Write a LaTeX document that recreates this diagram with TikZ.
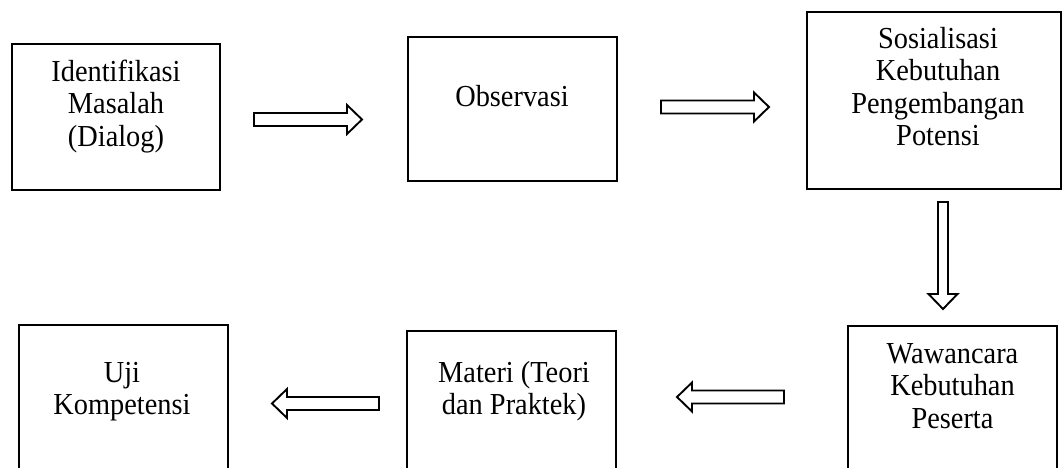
\documentclass[tikz,border=0pt]{standalone}
\usepackage{fontspec}
\setmainfont{Liberation Serif}[FakeStretch=0.93]
\usetikzlibrary{calc}
\newcommand{\fstrut}{\rule{0pt}{24pt}}
\tikzset{
  x=1pt, y=-1pt,
  box/.style={draw, line width=2pt, rectangle, inner sep=0pt},
  lbl/.style={anchor=north, align=center, inner sep=0pt,
    font=\fontsize{30.5}{32.5}\selectfont},
  bw/.store in=\bw, bw=6.5pt,
  barrow/.style={draw, line width=1.9pt, line join=miter, to path={
    ($(\tikztotarget)!15pt!(\tikztostart)$) coordinate (bah)
    ($(\tikztostart)!\bw!90:(\tikztotarget)$)
    -- ($(bah)!\bw!90:(\tikztotarget)$)
    -- ($(bah)!14.5pt!90:(\tikztotarget)$)
    -- (\tikztotarget)
    -- ($(bah)!14.5pt!-90:(\tikztotarget)$)
    -- ($(bah)!\bw!-90:(\tikztotarget)$)
    -- ($(\tikztostart)!\bw!-90:(\tikztotarget)$)
    -- cycle}}
}
\begin{document}
\begin{tikzpicture}
\useasboundingbox (0,0) rectangle (1063,468);
\clip (0,0) rectangle (1063,468);
% boxes
\node[box, minimum width=208pt, minimum height=146pt] (b1) at (116,117) {};
\node[box, minimum width=209pt, minimum height=144pt] (b2) at (512.5,109) {};
\node[box, minimum width=254pt, minimum height=177pt] (b3) at (934,100.5) {};
\node[box, minimum width=209pt, minimum height=154pt] (b4) at (952.5,403) {};
\node[box, minimum width=209pt, minimum height=149pt] (b5) at (511.5,405.5) {};
\node[box, minimum width=209pt, minimum height=155pt] (b6) at (123.5,402.5) {};
% labels
\node[lbl] (t1) at (116,57) {\fstrut Identifikasi\\Masalah\\(Dialog)};
\node[lbl] (t2) at (512,82) {\fstrut Observasi};
\node[lbl] (t3) at (938,24) {\fstrut Sosialisasi\\Kebutuhan\\Pengembangan\\Potensi};
\node[lbl] (t4) at (952.5,339) {\fstrut Wawancara\\Kebutuhan\\Peserta};
\node[lbl] (t5) at (514,358) {\fstrut Materi (Teori\\dan Praktek)};
\node[lbl] (t6) at (122,358) {\fstrut Uji\\Kompetensi};
% arrow end points
\coordinate (a1s) at (254,119.5);
\coordinate (a1e) at (362,119.5);
\coordinate (a2s) at (661,107);
\coordinate (a2e) at (769,107);
\coordinate (a3s) at (943,202);
\coordinate (a3e) at (943,309);
\coordinate (a4s) at (784,397);
\coordinate (a4e) at (677,397);
\coordinate (a5s) at (379,403.5);
\coordinate (a5e) at (272,403.5);
% arrows
\draw[barrow] (a1s) to (a1e);
\draw[barrow] (a2s) to (a2e);
\draw[barrow, bw=5pt] (a3s) to (a3e);
\draw[barrow] (a4s) to (a4e);
\draw[barrow] (a5s) to (a5e);
\end{tikzpicture}
\end{document}
